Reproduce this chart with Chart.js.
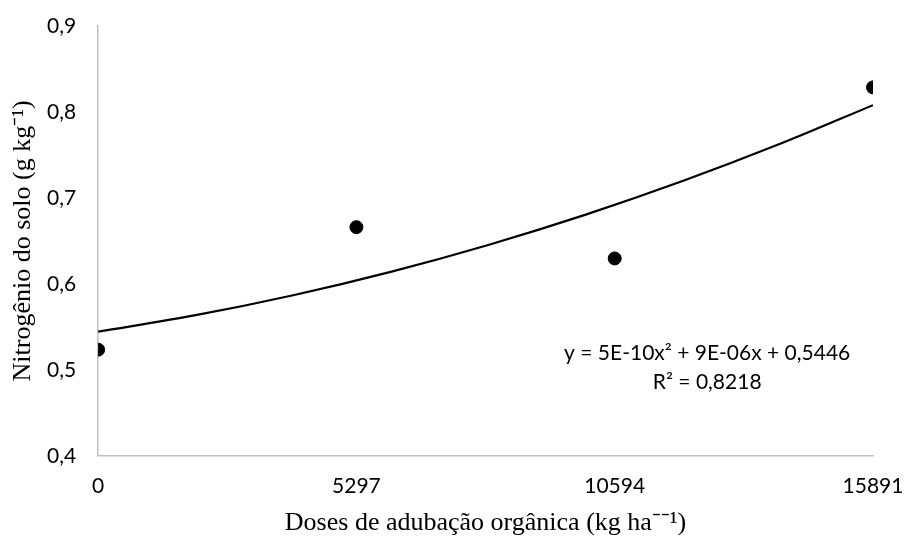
<!DOCTYPE html>
<html>
<head>
<meta charset="utf-8">
<script src="https://cdn.jsdelivr.net/npm/chart.js@4"></script>
<style>
  body { margin: 0; background: #fff; }
  #wrap { width: 904px; height: 536px; }
</style>
</head>
<body>
<div id="wrap"><canvas id="canvas"></canvas></div>
<script>
const doses = [0, 5297, 10594, 15891]
const nitrogenio = [0.5235, 0.666, 0.6296, 0.8286]
// trendline
const trendX = [0, 2000, 4000, 6000, 8000, 10000, 12000, 14000, 15891]
const trendY = [0.5444, 0.5636, 0.5868, 0.614, 0.6453, 0.6806, 0.7199, 0.7632, 0.8079]
const equationLines = ['y = 5E-10x² + 9E-06x + 0,5446', 'R² = 0,8218']

const equationPlugin = {
    id: 'equation',
    afterDatasetsDraw(chart) {
        const ctx = chart.ctx
        const area = chart.chartArea
        ctx.save()
        ctx.fillStyle = '#000'
        ctx.font = '21px Lato'
        ctx.textAlign = 'center'
        ctx.textBaseline = 'middle'
        const cx = area.left + (area.right - area.left) * 0.786
        ctx.fillText(equationLines[0], cx, area.top + 327)
        ctx.fillText(equationLines[1], cx, area.top + 356)
        ctx.restore()
    }
}

const canvas = document.getElementById('canvas')
new Chart(canvas, {
    type: 'scatter',
    data: {
        datasets: [
            {
                label: 'Nitrogênio',
                data: doses.map((d, i) => ({x: d, y: nitrogenio[i]})),
                backgroundColor: '#000',
                borderColor: '#000',
                pointRadius: 6.5,
                order: 0
            },
            {
                label: 'Tendência',
                type: 'line',
                data: trendX.map((d, i) => ({x: d, y: trendY[i]})),
                borderColor: '#000',
                borderWidth: 2.2,
                pointRadius: 0,
                fill: false,
                tension: 0.4,
                cubicInterpolationMode: 'monotone',
                order: 1
            }
        ]
    },
    options: {
        responsive: true,
        maintainAspectRatio: false,
        animation: false,
        layout: {padding: {top: 0, right: 0, left: 10, bottom: 0}},
        plugins: {
            legend: {display: false},
            tooltip: {enabled: false}
        },
        scales: {
            x: {
                type: 'linear',
                min: 0,
                max: 15891,
                afterBuildTicks: (axis) => { axis.ticks = doses.map(v => ({value: v})) },
                afterFit: (axis) => { axis.paddingRight = 31 },
                grid: {display: false, drawTicks: false},
                border: {color: '#bfbfbf', width: 1.5},
                ticks: {
                    color: '#000',
                    font: {family: 'Lato', size: 21},
                    padding: 18,
                    callback: (v) => String(v)
                },
                title: {
                    display: true,
                    text: 'Doses de adubação orgânica (kg ha⁻⁻¹)',
                    color: '#000',
                    font: {family: 'Liberation Serif', size: 26, lineHeight: 1.0},
                    padding: {top: -7, bottom: 0}
                }
            },
            y: {
                min: 0.4,
                max: 0.9,
                afterFit: (axis) => { axis.paddingTop = 26 },
                ticks: {
                    stepSize: 0.1,
                    color: '#000',
                    font: {family: 'Lato', size: 21},
                    padding: 22,
                    callback: (v) => v.toFixed(1).replace('.', ',')
                },
                grid: {display: false, drawTicks: false},
                border: {color: '#bfbfbf', width: 1.5},
                title: {
                    display: true,
                    text: 'Nitrogênio do solo (g kg⁻¹)',
                    color: '#000',
                    font: {family: 'Liberation Serif', size: 26, lineHeight: 1.0},
                    padding: {top: 0, bottom: -11}
                }
            }
        }
    },
    plugins: [equationPlugin]
})
</script>
</body>
</html>
